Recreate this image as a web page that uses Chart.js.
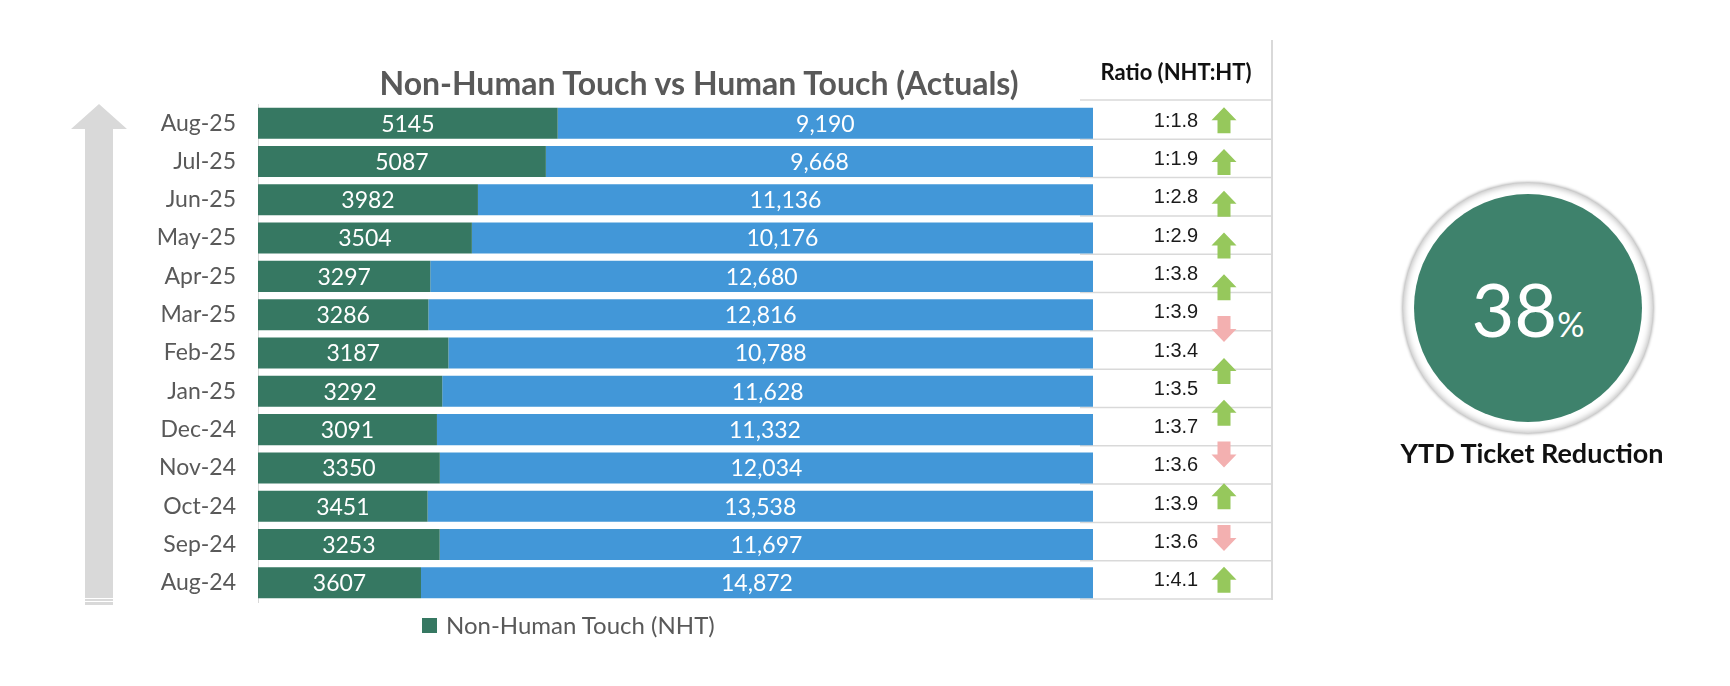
<!DOCTYPE html>
<html>
<head>
<meta charset="utf-8">
<script src="https://cdn.jsdelivr.net/npm/chart.js@4.4.1/dist/chart.umd.min.js"></script>
<style>
html,body{margin:0;padding:0;background:#fff;width:1730px;height:686px;overflow:hidden;font-family:Lato,"Open Sans",sans-serif}
#wrap{position:absolute;left:0;top:0;width:1730px;height:686px}
.abs{position:absolute;white-space:nowrap;line-height:1}
#title{left:699px;top:83px;transform:translate(-50%,-50%);font-weight:bold;font-size:32px;color:#595959}
#ratioHead{left:1176px;top:72px;transform:translate(-50%,-50%);font-weight:bold;font-size:22px;color:#111}
#legend{left:422px;top:625px;transform:translateY(-50%);font-size:24px;color:#595959;display:flex;align-items:center}
#legend .sw{width:15px;height:15px;background:#367862;margin-right:9px}
#ring{left:1403px;top:183px;width:250px;height:250px;border-radius:50%;background:#fff;
  box-shadow:0 0 3px 1px rgba(0,0,0,0.3), inset 0 0 6px 1px rgba(0,0,0,0.28)}
#disc{position:absolute;left:11px;top:11px;width:228px;height:228px;border-radius:50%;background:#3E826C}
#kpi{left:1528px;top:309px;transform:translate(-50%,-50%);color:#fff;font-size:74px}
#kpi span{font-size:34px}
#ytd{left:1532px;top:452px;transform:translate(-50%,-50%);font-weight:bold;font-size:27px;color:#111}
</style>
</head>
<body>
<div id="wrap">
  <canvas id="c"></canvas>
</div>
<div class="abs" id="title">Non-Human Touch vs Human Touch (Actuals)</div>
<div class="abs" id="ratioHead">Ratio (NHT:HT)</div>
<div class="abs" id="legend"><div class="sw"></div><span>Non-Human Touch (NHT)</span></div>
<div class="abs" id="ring"><div id="disc"></div></div>
<div class="abs" id="kpi">38<span>%</span></div>
<div class="abs" id="ytd">YTD Ticket Reduction</div>
<script>
// ---- data (top to bottom as shown) ----
const months = ['Aug-25','Jul-25','Jun-25','May-25','Apr-25','Mar-25','Feb-25','Jan-25','Dec-24','Nov-24','Oct-24','Sep-24','Aug-24'];
const nhtValues = [5145,5087,3982,3504,3297,3286,3187,3292,3091,3350,3451,3253,3607];
const htValues  = [9190,9668,11136,10176,12680,12816,10788,11628,11332,12034,13538,11697,14872];
const ratioLabels = ['1:1.8','1:1.9','1:2.8','1:2.9','1:3.8','1:3.9','1:3.4','1:3.5','1:3.7','1:3.6','1:3.9','1:3.6','1:4.1'];
const trendArrows = ['up','up','up','up','up','down','up','up','down','up','down','up'];

const GREEN = '#367862', BLUE = '#4297D8';
const nhtShare = nhtValues.map((v,i)=> v/(v+htValues[i])*100);
const htShare  = htValues.map((v,i)=> v/(nhtValues[i]+v)*100);

const decor = {
  id:'decor',
  beforeDraw(chart){
    const ctx = chart.ctx, ys = chart.scales.y;
    ctx.save();
    // big left arrow
    ctx.fillStyle = '#D9D9D9';
    ctx.beginPath();
    ctx.moveTo(99,104); ctx.lineTo(127,129); ctx.lineTo(113,129); ctx.lineTo(113,605);
    ctx.lineTo(85,605); ctx.lineTo(85,129); ctx.lineTo(71,129); ctx.closePath(); ctx.fill();
    ctx.strokeStyle = '#ffffff'; ctx.lineWidth = 1;
    ctx.beginPath(); ctx.moveTo(85,598.5); ctx.lineTo(113,598.5); ctx.moveTo(85,601.5); ctx.lineTo(113,601.5); ctx.stroke();
    // table lines
    const n = months.length;
    const half = (ys.getPixelForValue(1) - ys.getPixelForValue(0))/2;
    ctx.strokeStyle = '#D9D9D9'; ctx.lineWidth = 1.5;
    ctx.beginPath();
    ctx.moveTo(1080, ys.getPixelForValue(0) - half - 4); ctx.lineTo(1272, ys.getPixelForValue(0) - half - 4);
    for (let i=0;i<n;i++){
      const yy = ys.getPixelForValue(i) + half - 3;
      ctx.moveTo(1080, yy); ctx.lineTo(1272, yy);
    }
    ctx.stroke();
    ctx.lineWidth = 2;
    ctx.beginPath(); ctx.moveTo(1272, 40); ctx.lineTo(1272, ys.getPixelForValue(n-1) + half - 2); ctx.stroke();
    ctx.restore();
  },
  afterDatasetsDraw(chart){
    const ctx = chart.ctx, ys = chart.scales.y;
    ctx.save();
    // data labels
    ctx.fillStyle = '#fff';
    ctx.font = '23px Lato, "Open Sans", sans-serif';
    ctx.textAlign = 'center'; ctx.textBaseline = 'middle';
    chart.data.datasets.forEach((ds, di)=>{
      const meta = chart.getDatasetMeta(di);
      meta.data.forEach((el, i)=>{
        const raw = di === 0 ? nhtValues[i] : htValues[i];
        const txt = di === 0 ? String(raw) : raw.toLocaleString('en-US');
        ctx.fillText(txt, (el.base + el.x)/2, el.y + 1);
      });
    });
    // ratio column
    ctx.fillStyle = '#1a1a1a';
    ctx.font = '20px "Liberation Sans", Arial, sans-serif';
    ratioLabels.forEach((t,i)=> ctx.fillText(t, 1176, ys.getPixelForValue(i) - 2));
    // trend arrows spread over the rows
    const m = trendArrows.length, n = months.length;
    trendArrows.forEach((d,i)=>{
      const cy = ys.getPixelForValue(i*(n-1)/(m-1)) - 3;
      const cx = 1224;
      ctx.fillStyle = d === 'up' ? '#96C85C' : '#F3B0B0';
      ctx.beginPath();
      if (d === 'up'){
        ctx.moveTo(cx, cy-13); ctx.lineTo(cx+12.5, cy); ctx.lineTo(cx+6.5, cy); ctx.lineTo(cx+6.5, cy+13);
        ctx.lineTo(cx-6.5, cy+13); ctx.lineTo(cx-6.5, cy); ctx.lineTo(cx-12.5, cy);
      } else {
        ctx.moveTo(cx, cy+13); ctx.lineTo(cx+12.5, cy); ctx.lineTo(cx+6.5, cy); ctx.lineTo(cx+6.5, cy-13);
        ctx.lineTo(cx-6.5, cy-13); ctx.lineTo(cx-6.5, cy); ctx.lineTo(cx-12.5, cy);
      }
      ctx.closePath(); ctx.fill();
    });
    ctx.restore();
  }
};

new Chart(document.getElementById('c'), {
  type:'bar',
  data:{
    labels: months,
    datasets:[
      {label:'Non-Human Touch (NHT)', data:nhtShare, backgroundColor:GREEN, borderWidth:0},
      {label:'Human Touch (HT)', data:htShare, backgroundColor:BLUE, borderWidth:0}
    ]
  },
  options:{
    indexAxis:'y',
    responsive:true, maintainAspectRatio:false, animation:false,
    layout:{padding:{left:0, right:637, top:104, bottom:84}},
    categoryPercentage:1, barPercentage:0.81,
    plugins:{legend:{display:false}, title:{display:false}, tooltip:{enabled:false}},
    scales:{
      x:{stacked:true, min:0, max:100, display:false},
      y:{stacked:true,
         grid:{display:false, drawTicks:false},
         border:{display:true, color:'#D9D9D9', width:1},
         ticks:{color:'#595959', font:{family:'Lato, "Open Sans", sans-serif', size:23}, padding:22},
         afterFit(s){ s.width = 258; }
      }
    }
  },
  plugins:[decor]
});
</script>
</body>
</html>
